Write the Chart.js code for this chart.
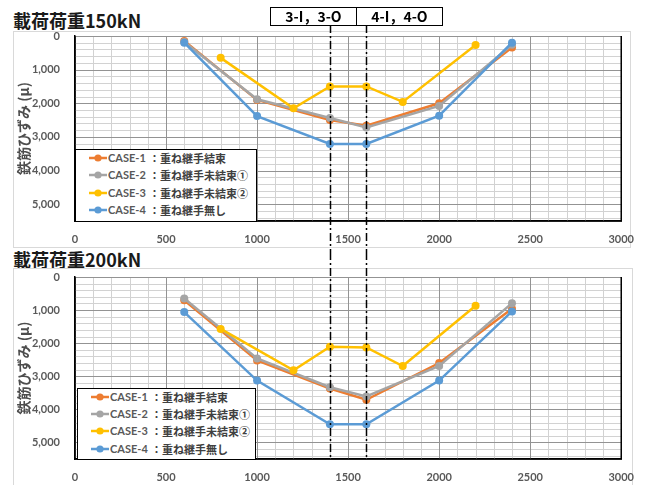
<!DOCTYPE html>
<html>
<head>
<meta charset="utf-8">
<script src="https://cdn.jsdelivr.net/npm/chart.js@4.4.1/dist/chart.umd.min.js"></script>
<style>
  body { margin: 0; background: #fff; width: 646px; height: 485px; position: relative; overflow: hidden;
         font-family: "Noto Sans CJK JP", sans-serif; }
  canvas { position: absolute; left: 0; }
  #chart150 { top: 0; }
  #chart200 { top: 252px; }
  .title { position: absolute; left: 13px; font-weight: 700; font-size: 18px; color: #1a1a1a; line-height: 1; }
  .hdr { position: absolute; left: 270px; top: 7px; height: 17px; border: 1.5px solid #000; display: flex; background: #fff; }
  .hdr div { width: 85px; text-align: center; font-weight: 700; font-size: 14px; line-height: 17px; color: #000; }
  .hdr div + div { border-left: 1.5px solid #000; }
  .legend { position: absolute; background: #fff; border: 1.5px solid #000; box-sizing: border-box; }
  .row { position: absolute; left: 0; height: 16px; width: 100%; white-space: nowrap; }
  .row svg { position: absolute; left: 13px; top: 3px; }
  .row .case { position: absolute; left: 32px; top: 0; font: bold 11px Lato, sans-serif; color: #595959; line-height: 16px; }
  .row .jp { position: absolute; left: 73px; top: 0; font-weight: 700; font-size: 11px; color: #404040; line-height: 16px; }
</style>
</head>
<body>
<div class="title" style="top:11px">載荷荷重150kN</div>
<div class="title" style="top:250px">載荷荷重200kN</div>
<canvas id="chart150" width="646" height="252"></canvas>
<canvas id="chart200" width="646" height="233"></canvas>
<div class="hdr"><div>3-I，3-O</div><div>4-I，4-O</div></div>
<div class="legend" id="legend150" style="left:75px;top:149px;width:182px;height:73px"></div>
<div class="legend" id="legend200" style="left:77px;top:388px;width:179px;height:72px"></div>

<script>
// 測点位置 (mm)
const xMain = [600, 1000, 1400, 1600, 2000, 2400];
const xCase3 = [800, 1200, 1400, 1600, 1800, 2200];

// 凡例
const seriesNames = ['CASE-1', 'CASE-2', 'CASE-3', 'CASE-4'];
const seriesLabels = ['：重ね継手結束', '：重ね継手未結束①', '：重ね継手未結束②', '：重ね継手無し'];
const seriesColors = ['#ED7D31', '#A5A5A5', '#FFC000', '#5B9BD5'];

// 載荷荷重150kN
const case1_150 = [150, 1900, 2500, 2670, 2000, 340];
const case2_150 = [180, 1880, 2440, 2720, 2080, 260];
const case3_150 = [650, 2150, 1500, 1500, 1960, 270];
const case4_150 = [200, 2380, 3210, 3210, 2370, 200];

// 載荷荷重200kN
const case1_200 = [700, 2520, 3370, 3710, 2600, 960];
const case2_200 = [650, 2460, 3330, 3610, 2690, 790];
const case3_200 = [1570, 2820, 2110, 2130, 2690, 870];
const case4_200 = [1060, 3130, 4450, 4450, 3130, 1040];

// 目盛
const xTicks = [0, 500, 1000, 1500, 2000, 2500, 3000];
const yTicks = [0, 1000, 2000, 3000, 4000, 5000];
const markLines = [1400, 1600];   // 3-I,3-O / 4-I,4-O の位置

const tickFont = { family: 'Lato', size: 11, weight: 'bold' };
const majorGrid = '#939393';
const minorGrid = '#d2d2d2';

function makeDatasets(values) {
  return values.map((ys, i) => ({
    label: seriesNames[i],
    data: (i === 2 ? xCase3 : xMain).map((x, j) => ({ x: x, y: ys[j] })),
    borderColor: seriesColors[i],
    backgroundColor: seriesColors[i],
    borderWidth: 2.5,
    pointRadius: 4,
    pointBorderWidth: 0,
    order: 3 - i   // 後の系列を上に描く
  }));
}

// 枠・目盛線・軸線・一点鎖線
function extras(frame, lineTop, toArea) {
  return {
    id: 'extras',
    beforeDraw(chart) {
      const c = chart.ctx;
      c.save();
      c.strokeStyle = '#d9d9d9';
      c.lineWidth = 1;
      c.strokeRect(frame[0], frame[1], frame[2], frame[3]);
      c.restore();
    },
    beforeDatasetsDraw(chart) {
      const c = chart.ctx, a = chart.chartArea, sx = chart.scales.x, sy = chart.scales.y;
      c.save();
      c.lineWidth = 1;
      // 補助目盛を先に、主目盛を後に
      [false, true].forEach(major => {
        c.strokeStyle = major ? majorGrid : minorGrid;
        for (let v = 100; v < sx.max; v += 100) {
          if ((v % 500 === 0) !== major) continue;
          const px = Math.round(sx.getPixelForValue(v)) + 0.5;
          c.beginPath(); c.moveTo(px, a.top); c.lineTo(px, a.bottom); c.stroke();
        }
        for (let v = 0; v < sy.max; v += 200) {
          if ((v % 1000 === 0) !== major) continue;
          const py = Math.round(sy.getPixelForValue(v)) + 0.5;
          c.beginPath(); c.moveTo(a.left, py); c.lineTo(a.right, py); c.stroke();
        }
      });
      c.strokeStyle = '#000';
      c.lineWidth = 1.5;
      c.beginPath();
      c.moveTo(a.left, a.top); c.lineTo(a.left, a.bottom); c.lineTo(a.right, a.bottom); c.lineTo(a.right, a.top);
      c.stroke();
      c.restore();
    },
    afterDatasetsDraw(chart) {
      const c = chart.ctx, a = chart.chartArea, x = chart.scales.x;
      c.save();
      c.strokeStyle = '#000';
      c.lineWidth = 1.5;
      c.setLineDash([8, 3, 2, 3]);
      markLines.forEach(v => {
        const px = Math.round(x.getPixelForValue(v)) + 0.5;
        c.beginPath();
        c.moveTo(px, lineTop);
        c.lineTo(px, toArea ? a.bottom : chart.height);
        c.stroke();
      });
      c.restore();
    }
  };
}

function makeChart(id, values, padTop, xHeight, frame, lineTop, toArea) {
  return new Chart(document.getElementById(id), {
    type: 'line',
    data: { datasets: makeDatasets(values) },
    options: {
      responsive: false,
      animation: false,
      layout: { padding: { left: 15, top: padTop, right: 24, bottom: 0 } },
      plugins: { legend: { display: false } },
      scales: {
        x: {
          type: 'linear', min: 0, max: 3000,
          afterFit: s => { s.height = xHeight; },
          ticks: {
            stepSize: 100, autoSkip: false, maxRotation: 0, padding: 12,
            color: '#595959', font: tickFont,
            callback: v => xTicks.includes(v) ? String(v) : ''
          },
          grid: { display: false, drawTicks: false },
          border: { color: '#000', width: 1.5 }
        },
        y: {
          type: 'linear', min: 0, max: 5500, reverse: true,
          afterFit: s => { s.width = 60; },
          ticks: {
            stepSize: 200, autoSkip: false, padding: 15,
            color: '#595959', font: tickFont,
            callback: v => yTicks.includes(v) ? v.toLocaleString('en-US') : ''
          },
          grid: { display: false, drawTicks: false },
          border: { color: '#000', width: 1.5 },
          title: {
            display: true, text: '鉄筋ひずみ (μ)', color: '#4d4d4d', padding: 0,
            font: { family: 'Noto Sans CJK JP', size: 14, weight: 'bold' }
          }
        }
      }
    },
    plugins: [extras(frame, lineTop, toArea)]
  });
}

makeChart('chart150', [case1_150, case2_150, case3_150, case4_150], 36, 31, [13.5, 31.5, 617, 216], 25, false);
makeChart('chart200', [case1_200, case2_200, case3_200, case4_200], 25, 26, [13.5, 16.5, 619, 300], 0, true);

// 凡例 (グラフ内左下)
function buildLegend(id, firstRow, step) {
  const box = document.getElementById(id);
  seriesNames.forEach((name, i) => {
    const row = document.createElement('div');
    row.className = 'row';
    row.style.top = (firstRow + i * step - 8) + 'px';
    row.innerHTML =
      '<svg width="18" height="10"><line x1="0" y1="5" x2="18" y2="5" stroke="' + seriesColors[i] +
      '" stroke-width="2.5"/><circle cx="9" cy="5" r="3.6" fill="' + seriesColors[i] + '"/></svg>' +
      '<span class="case">' + name + '</span><span class="jp">' + seriesLabels[i] + '</span>';
    box.appendChild(row);
  });
}
buildLegend('legend150', 8, 17.4);
buildLegend('legend200', 7.5, 17.4);
</script>
</body>
</html>
